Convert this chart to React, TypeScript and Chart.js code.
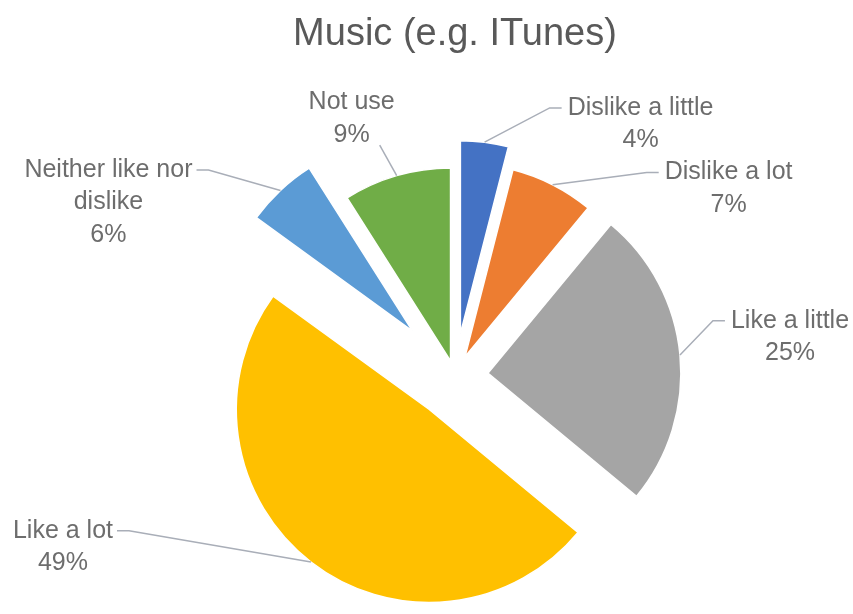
import React, { useEffect, useRef } from "react";
import { Chart, registerables } from "chart.js";

Chart.register(...registerables);

const TITLE = "Music (e.g. ITunes)";
const categories = [
  "Dislike a little",
  "Dislike a lot",
  "Like a little",
  "Like a lot",
  "Neither like nor dislike",
  "Not use",
];
const shares = [4, 7, 25, 49, 6, 9];
const sliceColors = ["#4472C4", "#ED7D31", "#A5A5A5", "#FFC000", "#5B9BD5", "#70AD47"];
// how far each slice is pulled out of the pie (px)
const explodeOffsets = [43, 22, 33, 42, 62, 16];
// label text as wrapped in the reference
const labelLines = [
  ["Dislike a little"],
  ["Dislike a lot"],
  ["Like a little"],
  ["Like a lot"],
  ["Neither like nor", "dislike"],
  ["Not use"],
];
// label block centre, relative to the slice's outer mid point
const labelShift = [
  [156, -18],
  [176, 4],
  [110, -18],
  [-248, -15],
  [-172, 12],
  [-45, -57],
];
const labelAttach = ["left", "left", "left", "right", "right", "bottom"];

const FONT = "'Liberation Sans', Arial, sans-serif";

function sliceGeom(arc: any, i: number) {
  const { x, y, startAngle, endAngle, outerRadius } = arc.getProps(
    ["x", "y", "startAngle", "endAngle", "outerRadius"],
    true
  );
  const mid = (startAngle + endAngle) / 2;
  const t = explodeOffsets[i] || 0;
  return { x, y, mid, outerRadius, dx: Math.cos(mid) * t, dy: Math.sin(mid) * t, t };
}

const explodePlugin = {
  id: "explodedSlices",
  beforeDatasetDraw(chart: any, args: any) {
    const ctx = chart.ctx;
    const meta = chart.getDatasetMeta(args.index);
    meta.data.forEach((arc: any, i: number) => {
      const g = sliceGeom(arc, i);
      ctx.save();
      ctx.translate(g.dx, g.dy);
      arc.draw(ctx, chart.chartArea);
      ctx.restore();
    });
    return false;
  },
};

const labelPlugin = {
  id: "calloutLabels",
  afterDatasetsDraw(chart: any) {
    const ctx = chart.ctx;
    const meta = chart.getDatasetMeta(0);
    const total = shares.reduce((a, b) => a + b, 0);
    const lineH = 32.5;
    ctx.save();
    ctx.font = `25px ${FONT}`;
    ctx.textAlign = "center";
    ctx.textBaseline = "middle";
    meta.data.forEach((arc: any, i: number) => {
      const g = sliceGeom(arc, i);
      const px = g.x + Math.cos(g.mid) * (g.outerRadius + g.t);
      const py = g.y + Math.sin(g.mid) * (g.outerRadius + g.t);
      const lines = [...labelLines[i], Math.round((shares[i] / total) * 100) + "%"];
      const cx = px + labelShift[i][0];
      const cy = py + labelShift[i][1];
      const n = lines.length;
      const w = Math.max(...lines.map((l) => ctx.measureText(l).width));
      const firstY = cy - ((n - 1) / 2) * lineH;
      let ax = cx;
      let ay = firstY;
      ctx.strokeStyle = "#a9aeb8";
      ctx.lineWidth = 1.5;
      ctx.beginPath();
      ctx.moveTo(px, py);
      if (labelAttach[i] === "left") {
        ax = cx - w / 2 - 6;
        ctx.lineTo(ax - 12, ay);
        ctx.lineTo(ax, ay);
      } else if (labelAttach[i] === "right") {
        ax = cx + w / 2 + 4;
        ctx.lineTo(ax + 12, ay);
        ctx.lineTo(ax, ay);
      } else {
        ax = cx + 28;
        ay = cy + (n * lineH) / 2 - 6;
        ctx.lineTo(ax, ay);
      }
      ctx.stroke();
      ctx.fillStyle = "#6d6d6d";
      lines.forEach((l, k) => {
        ctx.fillText(l, cx, firstY + k * lineH);
      });
    });
    ctx.restore();
  },
};

export default function App() {
  const ref = useRef<HTMLCanvasElement | null>(null);
  useEffect(() => {
    if (!ref.current) return;
    const chart = new Chart(ref.current, {
      type: "pie",
      data: {
        labels: categories,
        datasets: [
          {
            data: shares,
            backgroundColor: sliceColors,
            borderColor: "#ffffff",
            borderWidth: 1.5,
            offset: 0,
          },
        ],
      },
      options: {
        responsive: false,
        animation: false,
        radius: 193,
        rotation: 0,
        layout: { padding: { left: 67, right: 10, top: 0, bottom: 0 } },
        plugins: {
          legend: { display: false },
          tooltip: { enabled: false },
          title: {
            display: true,
            text: TITLE,
            color: "#595959",
            font: { family: FONT, size: 38, weight: "normal" },
            padding: { top: 12, bottom: 81 },
          },
        },
      } as any,
      plugins: [explodePlugin, labelPlugin],
    });
    return () => chart.destroy();
  }, []);
  return (
    <div style={{ position: "fixed", left: 0, top: 0, width: 853, height: 614, background: "#fff" }}>
      <canvas ref={ref} width={853} height={614} />
    </div>
  );
}
